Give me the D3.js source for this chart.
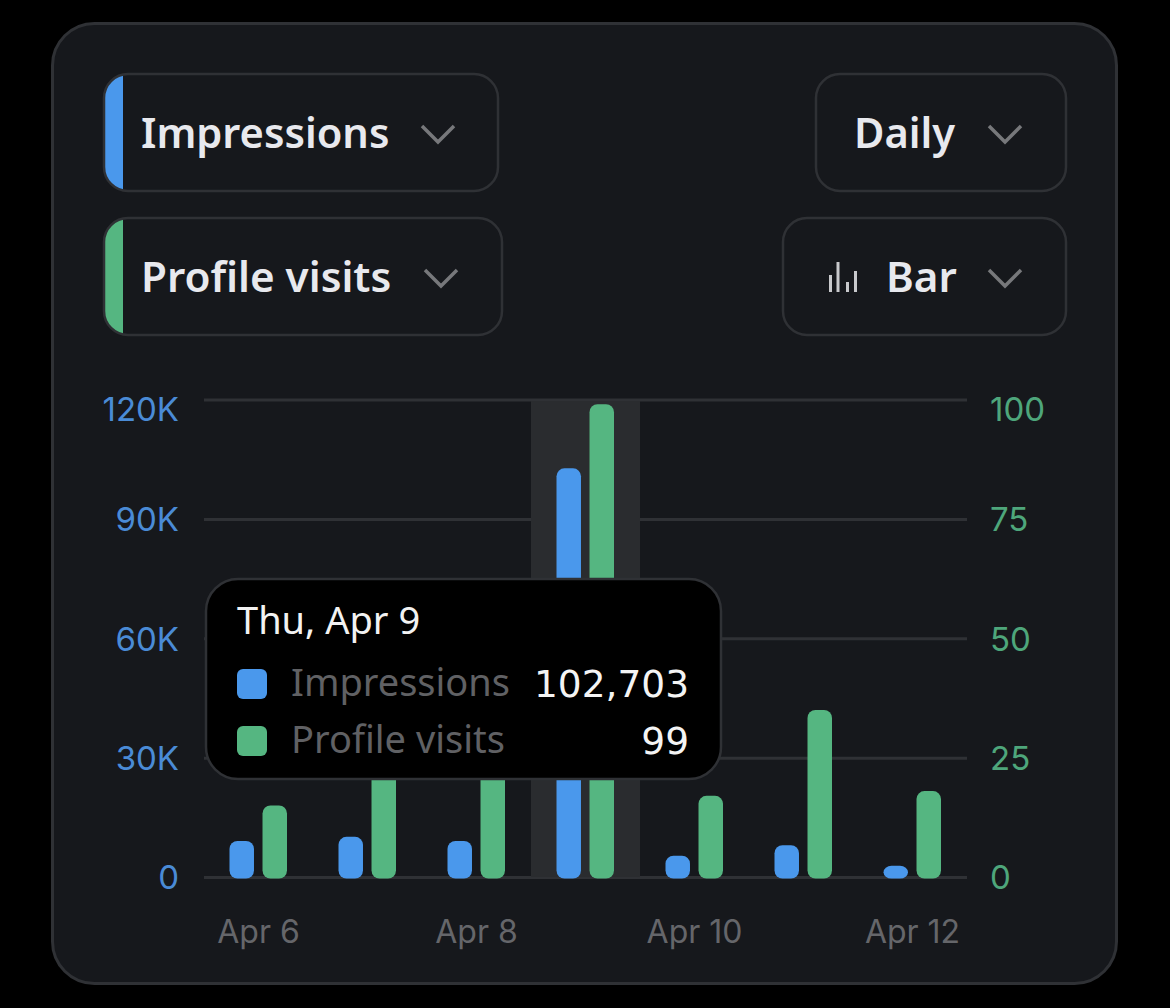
<!DOCTYPE html>
<html>
<head>
<meta charset="utf-8">
<script src="https://cdn.jsdelivr.net/npm/d3@7"></script>
<style>
  html, body { margin: 0; padding: 0; background: #000; }
  svg { display: block; }
  text { font-family: "Noto Sans", sans-serif; }
</style>
</head>
<body>
<svg id="drawing_region"></svg>
<script>
const days = ['Apr 6', 'Apr 7', 'Apr 8', 'Apr 9', 'Apr 10', 'Apr 11', 'Apr 12'];
const impressions = [9050, 10100, 9050, 102703, 5350, 8000, 2800];
const profileVisits = [15, 30, 30, 99, 17, 35, 18];
const dayTicks = ['Apr 6', 'Apr 8', 'Apr 10', 'Apr 12'];
const leftTicks = [0, 30000, 60000, 90000, 120000];
const rightTicks = [0, 25, 50, 75, 100];
const highlightDay = 'Apr 9';

const blue = '#4a98ec', green = '#55b681';
const line = '#2f3135', panel = '#16181c';

const svg = d3.select('#drawing_region').attr('width', 1170).attr('height', 1008);
svg.append('rect').attr('width', 1170).attr('height', 1008).attr('fill', '#000');
svg.append('rect')
    .attr('x', 52.5).attr('y', 23.5).attr('width', 1064).attr('height', 960).attr('rx', 42)
    .attr('fill', panel).attr('stroke', line).attr('stroke-width', 3);

// dropdowns
const drops = [
    { label: 'Impressions', x: 104, y: 74, w: 394, tx: 141, cx: 438, fs: 41.6, color: blue },
    { label: 'Profile visits', x: 104, y: 218, w: 398, tx: 141, cx: 441, fs: 42.2, color: green },
    { label: 'Daily', x: 816, y: 74, w: 250, tx: 854, cx: 1005, fs: 41.6 },
    { label: 'Bar', x: 783, y: 218, w: 283, tx: 886, cx: 1005, fs: 42.2 }
];
const defs = svg.append('defs');
drops.forEach((d, i) => {
    const g = svg.append('g');
    if (d.color) {
        defs.append('clipPath').attr('id', 'drop' + i).append('rect')
            .attr('x', d.x).attr('y', d.y).attr('width', d.w).attr('height', 117).attr('rx', 24);
        g.append('rect')
            .attr('x', d.x).attr('y', d.y).attr('width', 19).attr('height', 117)
            .attr('fill', d.color).attr('clip-path', `url(#drop${i})`);
    }
    g.append('rect')
        .attr('x', d.x).attr('y', d.y).attr('width', d.w).attr('height', 117).attr('rx', 24)
        .attr('fill', 'none').attr('stroke', line).attr('stroke-width', 2.5);
    g.append('text')
        .attr('x', d.tx).attr('y', d.y + 74)
        .attr('fill', '#e8e9ee').attr('font-size', d.fs).attr('font-weight', 600)
        .text(d.label);
    g.append('path')
        .attr('d', `M${d.cx - 16},${d.y + 52} L${d.cx},${d.y + 68} L${d.cx + 16},${d.y + 52}`)
        .attr('fill', 'none').attr('stroke', '#77787b').attr('stroke-width', 3.5);
});
// little bar icon in the chart type dropdown
[[830.5, 275], [838, 262], [847.5, 282], [855.5, 271]].forEach(b => {
    svg.append('line').attr('x1', b[0]).attr('x2', b[0]).attr('y1', b[1]).attr('y2', 292)
        .attr('stroke', '#c8c9cc').attr('stroke-width', 3);
});

// scales
const x = d3.scaleBand().domain(days).range([204, 967]);
const inner = d3.scaleBand().domain(['impressions', 'visits']).range([25.5, 83]).paddingInner(0.258);
const yLeft = d3.scaleLinear().domain([0, 120000]).range([877, 399.5]);
const yRight = d3.scaleLinear().domain([0, 100]).range([877, 399.5]);

// axes
const axisFont = (g, color) => {
    g.select('.domain').remove();
    g.selectAll('line').attr('stroke', line).attr('stroke-width', 3);
    g.selectAll('text').attr('fill', color).attr('font-size', 33).attr('dy', '0.36em')
        .style('font-family', 'Inter, sans-serif');
};

const leftAxis = svg.append('g').attr('transform', 'translate(204,0)')
    .call(d3.axisLeft(yLeft).tickValues(leftTicks)
        .tickFormat(d => d === 0 ? '0' : (d / 1000) + 'K')
        .tickSize(-763).tickPadding(25));
axisFont(leftAxis, '#4a8bd6');

const rightAxis = svg.append('g').attr('transform', 'translate(967,0)')
    .call(d3.axisRight(yRight).tickValues(rightTicks).tickSize(0).tickPadding(23));
axisFont(rightAxis, '#4ea67b');

// top labels sit a bit below the top gridline
[leftAxis, rightAxis].forEach(a => {
    a.selectAll('.tick').filter((d, i) => i === 4).select('text').attr('y', 9);
});

const bottomAxis = svg.append('g').attr('transform', 'translate(0,877)')
    .call(d3.axisBottom(x).tickValues(dayTicks).tickSize(0).tickPadding(43));
bottomAxis.select('.domain').remove();
bottomAxis.selectAll('text').attr('fill', '#65666a').attr('font-size', 32)
    .style('font-family', 'Inter, sans-serif');

// highlight band
svg.append('rect')
    .attr('x', x(highlightDay)).attr('y', 401).attr('width', x.bandwidth()).attr('height', 476)
    .attr('fill', '#2a2c2f');

// bars
const bars = svg.append('g');
bars.selectAll('.imp').data(impressions).join('rect')
    .attr('x', (d, i) => x(days[i]) + inner('impressions'))
    .attr('y', d => yLeft(d))
    .attr('width', inner.bandwidth())
    .attr('height', d => yLeft(0) - yLeft(d) + 1.5)
    .attr('rx', 8)
    .attr('fill', blue);
bars.selectAll('.vis').data(profileVisits).join('rect')
    .attr('x', (d, i) => x(days[i]) + inner('visits'))
    .attr('y', d => yRight(d))
    .attr('width', inner.bandwidth())
    .attr('height', d => yRight(0) - yRight(d) + 1.5)
    .attr('rx', 8)
    .attr('fill', green);

// tooltip
const tip = svg.append('g');
const hi = days.indexOf(highlightDay);
tip.append('rect')
    .attr('x', 206).attr('y', 579).attr('width', 515).attr('height', 200).attr('rx', 32)
    .attr('fill', '#000').attr('stroke', line).attr('stroke-width', 2.5);
tip.append('text').attr('x', 237).attr('y', 634)
    .attr('fill', '#f2f2f2').attr('font-size', 38).text('Thu, Apr 9');

const rows = [
    { label: 'Impressions', value: d3.format(',')(impressions[hi]), color: blue, y: 684 },
    { label: 'Profile visits', value: d3.format(',')(profileVisits[hi]), color: green, y: 741 }
];
rows.forEach(r => {
    tip.append('rect').attr('x', 237).attr('y', r.y - 15).attr('width', 30).attr('height', 30).attr('rx', 6)
        .attr('fill', r.color);
    tip.append('text').attr('x', 291).attr('y', r.y + 12)
        .attr('fill', '#606164').attr('font-size', 38).text(r.label);
    tip.append('text').attr('x', 689).attr('y', r.y + 13).attr('text-anchor', 'end')
        .attr('fill', '#f4f4f4').attr('font-size', 37.5)
        .style('font-family', '"DejaVu Sans", sans-serif').text(r.value);
});
</script>
</body>
</html>
